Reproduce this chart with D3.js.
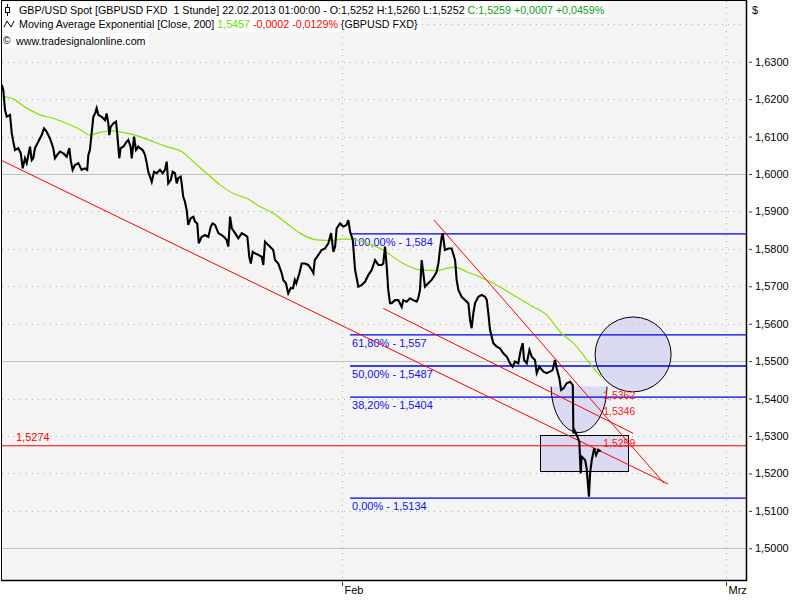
<!DOCTYPE html>
<html><head><meta charset="utf-8">
<script src="https://cdn.jsdelivr.net/npm/d3@7"></script>
<style>
body{margin:0;background:#fff;}
svg{display:block;font-family:"Liberation Sans",Arial,sans-serif;}
</style>
</head><body>
<svg id="c" width="800" height="600"></svg>
<script>
// ---- DATA (time = trading days relative to 1 Feb 2013) ----
const priceDay = [-17.72,-17.64,-17.55,-17.46,-17.29,-17.20,-17.12,-17.03,-16.86,-16.73,-16.63,-16.51,-16.42,-16.25,-16.16,-16.08,-15.99,-15.82,-15.64,-15.52,-15.38,-15.21,-15.12,-15.04,-14.95,-14.83,-14.69,-14.51,-14.34,-14.20,-14.13,-14.03,-13.91,-13.73,-13.56,-13.39,-13.27,-13.21,-13.13,-13.04,-12.95,-12.86,-12.78,-12.69,-12.52,-12.34,-12.26,-12.17,-12.12,-12.05,-11.91,-11.77,-11.70,-11.60,-11.53,-11.39,-11.22,-11.13,-11.01,-10.95,-10.83,-10.73,-10.61,-10.52,-10.38,-10.26,-10.17,-10.09,-10.00,-9.91,-9.79,-9.65,-9.48,-9.34,-9.22,-9.13,-9.05,-8.92,-8.82,-8.70,-8.61,-8.53,-8.40,-8.35,-8.27,-8.18,-8.09,-8.01,-7.88,-7.74,-7.66,-7.54,-7.46,-7.31,-7.14,-6.96,-6.84,-6.74,-6.61,-6.44,-6.27,-6.15,-6.01,-5.92,-5.83,-5.74,-5.57,-5.40,-5.22,-5.05,-4.93,-4.83,-4.75,-4.65,-4.53,-4.36,-4.18,-4.10,-4.01,-3.84,-3.66,-3.58,-3.49,-3.32,-3.14,-3.06,-2.92,-2.80,-2.67,-2.55,-2.46,-2.38,-2.22,-2.10,-1.93,-1.76,-1.58,-1.49,-1.42,-1.23,-1.06,-0.89,-0.71,-0.57,-0.45,-0.36,-0.28,-0.10,0.07,0.24,0.33,0.42,0.51,0.56,0.68,0.85,1.01,1.20,1.37,1.55,1.72,1.89,2.07,2.15,2.24,2.33,2.41,2.50,2.59,2.76,2.93,3.11,3.19,3.37,3.54,3.71,3.89,3.97,4.06,4.15,4.32,4.49,4.67,4.84,4.93,5.02,5.10,5.19,5.24,5.36,5.54,5.71,5.89,5.97,6.06,6.23,6.41,6.58,6.67,6.75,6.84,6.93,7.10,7.28,7.45,7.54,7.62,7.71,7.88,8.06,8.23,8.40,8.58,8.75,8.89,9.01,9.18,9.31,9.41,9.48,9.62,9.76,9.88,10.05,10.14,10.28,10.49,10.66,10.83,10.97,11.09,11.18,11.32,11.41,11.53,11.70,11.88,12.02,12.05,12.10,12.22,12.36,12.40,12.43,12.48,12.66,12.74,12.83,12.86,12.92,13.01,13.13,13.23,13.35,13.47];
const priceClose = [1.6238,1.6224,1.6171,1.6153,1.6158,1.6109,1.6086,1.6064,1.6069,1.6055,1.6015,1.6042,1.6029,1.6073,1.6037,1.6042,1.6069,1.6086,1.6104,1.6122,1.6113,1.6095,1.6082,1.6069,1.6042,1.6051,1.6060,1.6055,1.6046,1.6069,1.6037,1.6011,1.6024,1.6029,1.6011,1.6015,1.6011,1.6051,1.6064,1.6109,1.6153,1.6162,1.6176,1.6158,1.6153,1.6144,1.6162,1.6135,1.6104,1.6126,1.6135,1.6140,1.6104,1.6042,1.6069,1.6073,1.6086,1.6091,1.6073,1.6042,1.6100,1.6064,1.6073,1.6069,1.6064,1.6051,1.6029,1.6006,1.5993,1.5979,1.6006,1.6002,1.6011,1.6002,1.6011,1.6033,1.5975,1.5984,1.6006,1.6002,1.5975,1.5989,1.5993,1.5975,1.5939,1.5926,1.5904,1.5864,1.5882,1.5886,1.5873,1.5868,1.5815,1.5832,1.5837,1.5832,1.5859,1.5868,1.5864,1.5842,1.5837,1.5832,1.5824,1.5806,1.5886,1.5855,1.5842,1.5828,1.5842,1.5837,1.5832,1.5779,1.5761,1.5792,1.5788,1.5784,1.5779,1.5757,1.5819,1.5810,1.5801,1.5797,1.5770,1.5761,1.5735,1.5717,1.5708,1.5681,1.5695,1.5695,1.5717,1.5708,1.5735,1.5761,1.5761,1.5757,1.5744,1.5735,1.5770,1.5784,1.5797,1.5801,1.5815,1.5842,1.5792,1.5806,1.5855,1.5868,1.5859,1.5864,1.5877,1.5846,1.5832,1.5824,1.5744,1.5699,1.5703,1.5712,1.5730,1.5744,1.5770,1.5757,1.5757,1.5761,1.5806,1.5752,1.5690,1.5655,1.5655,1.5663,1.5663,1.5645,1.5663,1.5659,1.5668,1.5663,1.5659,1.5668,1.5690,1.5770,1.5699,1.5708,1.5717,1.5730,1.5739,1.5761,1.5797,1.5832,1.5842,1.5797,1.5801,1.5801,1.5770,1.5717,1.5690,1.5672,1.5663,1.5655,1.5610,1.5588,1.5628,1.5655,1.5672,1.5677,1.5672,1.5663,1.5628,1.5583,1.5548,1.5539,1.5534,1.5521,1.5512,1.5494,1.5485,1.5499,1.5494,1.5530,1.5548,1.5503,1.5494,1.5530,1.5512,1.5503,1.5468,1.5485,1.5472,1.5468,1.5472,1.5476,1.5503,1.5481,1.5454,1.5423,1.5427,1.5441,1.5445,1.5436,1.5307,1.5316,1.5303,1.5285,1.5236,1.5200,1.5245,1.5236,1.5214,1.5156,1.5138,1.5200,1.5236,1.5267,1.5249,1.5263,1.5259];
const emaDay = [-17.72,-17.12,-16.42,-15.73,-15.04,-14.34,-13.65,-13.13,-12.60,-11.91,-11.21,-10.52,-9.83,-9.13,-8.35,-7.74,-7.05,-6.35,-5.66,-4.96,-4.27,-3.58,-2.88,-2.19,-1.32,-0.45,-0.10,0.51,1.29,2.15,3.02,4.06,4.93,5.45,5.89,6.49,7.36,8.06,8.92,9.79,10.66,11.44,12.05,12.74,13.47];
const emaValue = [1.6208,1.6200,1.6176,1.6158,1.6149,1.6135,1.6119,1.6104,1.6111,1.6115,1.6109,1.6100,1.6086,1.6073,1.6060,1.6033,1.6002,1.5971,1.5948,1.5935,1.5913,1.5895,1.5868,1.5842,1.5824,1.5822,1.5826,1.5826,1.5815,1.5797,1.5766,1.5744,1.5742,1.5748,1.5751,1.5739,1.5721,1.5703,1.5677,1.5650,1.5623,1.5574,1.5548,1.5505,1.5458];

const yTickValues = [1.50,1.51,1.52,1.53,1.54,1.55,1.56,1.57,1.58,1.59,1.60,1.61,1.62,1.63];
const gridValues = [1.50,1.51,1.52,1.53,1.54,1.55,1.56,1.57,1.58,1.59,1.60,1.61,1.62,1.63,1.64];
const majorGridValues = [1.50,1.55,1.60];
const monthDay = [0, 20];
const monthLabel = ["Feb", "Mrz"];

const fibPercent = [100, 61.8, 50, 38.2, 0];
const fibPrice = [1.584, 1.557, 1.5487, 1.5404, 1.5134];
const fibStartDay = 0.42;

const markLineValue = 1.5274;
const trendStartDay = [-17.72, 2.15, 4.79];
const trendStartPrice = [1.6036, 1.5641, 1.5877];
const trendEndDay = [16.98, 15.17, 16.77];
const trendEndPrice = [1.5172, 1.5307, 1.5174];
const tagValues = [1.5362, 1.5346, 1.5259];
const tagDay = 13.6;

// shapes (data units)
const circleDay = [13.18, 17.14], circlePrice = [1.5418, 1.5618];
const bowlDay = [10.89, 13.80], bowlPrice = [1.5309, 1.5432];
const boxDay = [10.31, 14.90], boxPrice = [1.5207, 1.5303];

// ---- CHART ----
const svg = d3.select("#c");
const L = 2, R = 746, T = 1, B = 580;
const x = d3.scaleLinear().domain([-17.708, 21.04]).range([L, R]);
const y = d3.scaleLinear().domain([1.49153, 1.64622]).range([B, T]);
const fmt4 = v => d3.format(".4f")(v).replace(".", ",");
const fmtTrim = v => String(+v.toFixed(4)).replace(".", ",");

svg.append("defs").append("clipPath").attr("id", "clip")
  .append("rect").attr("x", L).attr("y", T).attr("width", R - L).attr("height", B - T);

svg.append("rect").attr("x", L).attr("y", T).attr("width", R - L).attr("height", B - T).attr("fill", "#f4f4f4");

const plot = svg.append("g").attr("clip-path", "url(#clip)");

// grid
plot.selectAll(".hg").data(gridValues.filter(v => !majorGridValues.includes(v))).join("line")
  .attr("x1", L).attr("x2", R).attr("y1", d => Math.round(y(d)) + 0.5).attr("y2", d => Math.round(y(d)) + 0.5)
  .attr("stroke", "#a8b4a8").attr("stroke-dasharray", "1,5");
plot.selectAll(".mg").data(majorGridValues).join("line")
  .attr("x1", L).attr("x2", R).attr("y1", d => Math.round(y(d)) + 0.5).attr("y2", d => Math.round(y(d)) + 0.5)
  .attr("stroke", "#b8c8b8");
plot.selectAll(".vg").data(monthDay).join("line")
  .attr("x1", d => Math.round(x(d)) + 0.5).attr("x2", d => Math.round(x(d)) + 0.5).attr("y1", T).attr("y2", B)
  .attr("stroke", "#a8b4a8").attr("stroke-dasharray", "1,5");

// shapes
const shapeFill = "rgba(200,200,240,0.6)";
plot.append("ellipse")
  .attr("cx", (x(circleDay[0]) + x(circleDay[1])) / 2).attr("cy", (y(circlePrice[0]) + y(circlePrice[1])) / 2)
  .attr("rx", (x(circleDay[1]) - x(circleDay[0])) / 2).attr("ry", (y(circlePrice[0]) - y(circlePrice[1])) / 2)
  .attr("fill", shapeFill).attr("stroke", "#000").attr("stroke-width", 1);
{
  const x0 = x(bowlDay[0]), x1 = x(bowlDay[1]), yt = y(bowlPrice[1]), yb = y(bowlPrice[0]);
  const rx = (x1 - x0) / 2, ry = yb - yt;
  plot.append("path").attr("d", `M${x0},${yt} A${rx},${ry} 0 0 0 ${x1},${yt} Z`).attr("fill", shapeFill).attr("stroke", "none");
  plot.append("path").attr("d", `M${x0},${yt} A${rx},${ry} 0 0 0 ${x1},${yt}`).attr("fill", "none").attr("stroke", "#000");
}
plot.append("rect")
  .attr("x", Math.round(x(boxDay[0])) + 0.5).attr("y", Math.round(y(boxPrice[1])) + 0.5)
  .attr("width", Math.round(x(boxDay[1]) - x(boxDay[0]))).attr("height", Math.round(y(boxPrice[0]) - y(boxPrice[1])))
  .attr("fill", shapeFill).attr("stroke", "#000");

// fib lines
plot.selectAll(".fib").data(fibPrice).join("line")
  .attr("x1", x(fibStartDay)).attr("x2", R).attr("y1", d => y(d)).attr("y2", d => y(d))
  .attr("stroke", "#0000e6").attr("stroke-width", 1.3);
plot.selectAll(".fibt").data(fibPrice).join("text")
  .attr("x", x(fibStartDay) + 2).attr("y", d => y(d) + 12)
  .attr("font-size", 11).attr("fill", "#1010f0")
  .text((d, i) => d3.format(".2f")(fibPercent[i]).replace(".", ",") + "% - " + fmtTrim(d));

// red mark line
plot.append("line").attr("x1", L).attr("x2", R).attr("y1", y(markLineValue)).attr("y2", y(markLineValue))
  .attr("stroke", "#ff0000").attr("stroke-width", 1.2);
plot.append("text").attr("x", 16).attr("y", y(markLineValue) - 5).attr("font-size", 11).attr("fill", "#ff0000")
  .text(fmt4(markLineValue));

// EMA
plot.append("path").datum(emaDay.map((d, i) => [d, emaValue[i]]))
  .attr("d", d3.line().x(d => x(d[0])).y(d => y(d[1])).curve(d3.curveMonotoneX))
  .attr("fill", "none").attr("stroke", "#88e000").attr("stroke-width", 1.2);

// trend lines
plot.selectAll(".tr").data(trendStartDay).join("line")
  .attr("x1", d => x(d)).attr("y1", (d, i) => y(trendStartPrice[i]))
  .attr("x2", (d, i) => x(trendEndDay[i])).attr("y2", (d, i) => y(trendEndPrice[i]))
  .attr("stroke", "#ff0000").attr("stroke-width", 1);

// price
plot.append("path").datum(priceDay.map((d, i) => [d, priceClose[i]]))
  .attr("d", d3.line().x(d => x(d[0])).y(d => y(d[1])))
  .attr("fill", "none").attr("stroke", "#000").attr("stroke-width", 2.1).attr("stroke-linejoin", "miter");

// value tags
plot.selectAll(".tag").data(tagValues).join("text")
  .attr("x", x(tagDay)).attr("y", (d, i) => y(d) - 4 - (i === 0 ? 10 : 0)).attr("font-size", 10.5).attr("fill", "#ff1a1a")
  .text(d => fmt4(d));

// border
svg.append("rect").attr("x", L - 0.5).attr("y", T - 0.5).attr("width", R - L + 1).attr("height", B - T + 1)
  .attr("fill", "none").attr("stroke", "#000");
svg.append("line").attr("x1", R + 0.5).attr("x2", R + 0.5).attr("y1", T).attr("y2", B + 1).attr("stroke", "#000").attr("stroke-width", 1.5);
svg.append("line").attr("x1", L).attr("x2", R + 1).attr("y1", B + 0.5).attr("y2", B + 0.5).attr("stroke", "#000").attr("stroke-width", 1.5);

// y axis
const yAxis = svg.append("g").attr("transform", `translate(${R + 3},0)`)
  .call(d3.axisRight(y).tickValues(yTickValues).tickSize(3).tickPadding(3).tickFormat(fmt4));
yAxis.select(".domain").remove();
yAxis.selectAll(".tick line").attr("stroke", "#333");
yAxis.selectAll("text").attr("font-size", 11).attr("font-family", '"Liberation Sans",Arial,sans-serif').attr("fill", "#000");
svg.append("text").attr("x", 752).attr("y", 14).attr("font-size", 11).text("$");

// x axis
const xAxis = svg.append("g").attr("transform", `translate(0,${B + 2})`)
  .call(d3.axisBottom(x).tickValues(monthDay).tickSize(4).tickPadding(0).tickFormat((d, i) => monthLabel[i]));
xAxis.select(".domain").remove();
xAxis.selectAll(".tick line").attr("stroke", "#333");
xAxis.selectAll("text").attr("font-size", 11).attr("font-family", '"Liberation Sans",Arial,sans-serif')
  .attr("fill", "#000").attr("text-anchor", "start").attr("x", 2).attr("dy", "0.9em").attr("y", 2);

// header
const header = svg.append("g").attr("font-size", 10.7).attr("xml:space", "preserve");
function headerLine(parts, tx, base, bgTop, bgBottom) {
  const bg = header.append("rect").attr("fill", "#fff");
  const t = header.append("text").attr("x", tx).attr("y", base).style("white-space", "pre");
  parts.forEach(p => t.append("tspan").attr("fill", p[1]).text(p[0]));
  const bb = t.node().getBBox();
  bg.attr("x", L).attr("y", bgTop).attr("width", bb.x + bb.width + 3 - L).attr("height", bgBottom - bgTop);
}
headerLine([["GBP/USD Spot [GBPUSD FXD  1 Stunde] 22.02.2013 01:00:00 - O:1,5252 H:1,5260 L:1,5252 ", "#000"], ["C:1,5259 +0,0007 +0,0459%", "#10a010"]], 19, 14, 2, 17);
headerLine([["Moving Average Exponential [Close, 200] ", "#000"], ["1,5457", "#66dd00"], [" -0,0002 -0,0129%", "#ff0000"], [" {GBPUSD FXD}", "#000"]], 19, 28, 17, 32);
headerLine([["www.tradesignalonline.com", "#000"]], 16, 45, 33, 48);
// icons
header.append("line").attr("x1", 7.5).attr("x2", 7.5).attr("y1", 4).attr("y2", 16).attr("stroke", "#000");
header.append("rect").attr("x", 5.5).attr("y", 7.5).attr("width", 4).attr("height", 5).attr("fill", "#fff").attr("stroke", "#000");
header.append("path").attr("d", "M4,27 L7,21 L11,27 L14,21").attr("fill", "none").attr("stroke", "#000");
header.append("text").attr("x", 3).attr("y", 44).attr("font-size", 10).text("©");
</script>
</body></html>
